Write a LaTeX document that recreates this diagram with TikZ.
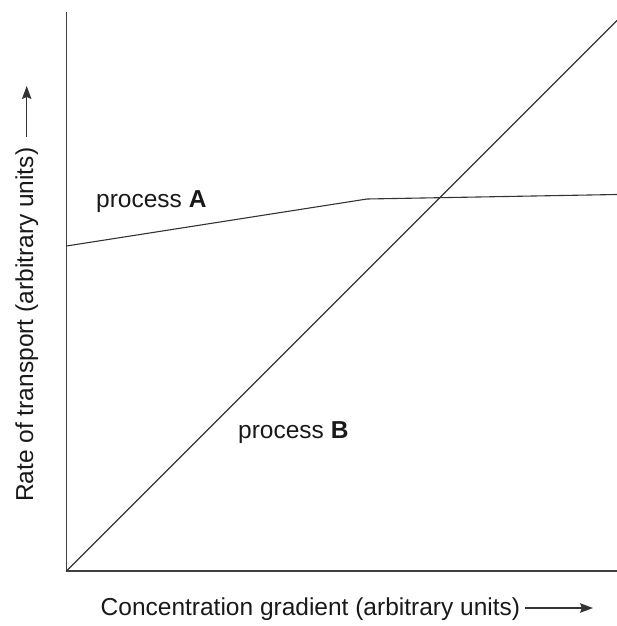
\documentclass[tikz,border=0pt]{standalone}
\usepackage{fontspec}
\setmainfont{Liberation Sans}
\usetikzlibrary{arrows.meta}

\begin{document}
\begin{tikzpicture}[x=1pt,y=-1pt,
  axisline/.style={line width=1.5pt,color=black!75},
  rateline/.style={line width=1.1pt,color=black!80},
  lbltext/.style={inner sep=0pt,text=black!90,font=\fontsize{24.5}{29}\selectfont},
  pointer/.style={line width=1.2pt,color=black!80,-{Stealth[length=13pt,width=9.5pt,inset=2pt]}}]
\useasboundingbox (0,0) rectangle (617,626);

% Axes
\coordinate (O) at (66.5,571);
\coordinate (ytop) at (66.5,12.5);
\coordinate (xend) at (617,571);
\draw[axisline] (ytop) -- (O) -- (xend);

% Process A
\coordinate (A0) at (66.5,246);
\coordinate (A1) at (367,199);
\coordinate (A2) at (617,194.5);
\draw[rateline] (A0) -- (A1) -- (A2);
\node[lbltext,anchor=base west] (labA) at (96,207) {process \textbf{A}};

% Process B
\coordinate (B1) at (617,20.5);
\draw[rateline] (O) -- (B1);
\node[lbltext,anchor=base west] (labB) at (238,438) {process \textbf{B}};

% Axis labels
\node[lbltext,anchor=base west] (xlab) at (100.5,615) {Concentration gradient (arbitrary units)};
\coordinate (xarrS) at (525,608);
\coordinate (xarrE) at (593,608);
\draw[pointer] (xarrS) -- (xarrE);
\node[lbltext,anchor=base west,rotate=90] (ylab) at (33,502) {Rate of transport (arbitrary units)};
\coordinate (yarrS) at (26.7,137);
\coordinate (yarrE) at (26.7,86);
\draw[pointer] (yarrS) -- (yarrE);
\end{tikzpicture}
\end{document}
